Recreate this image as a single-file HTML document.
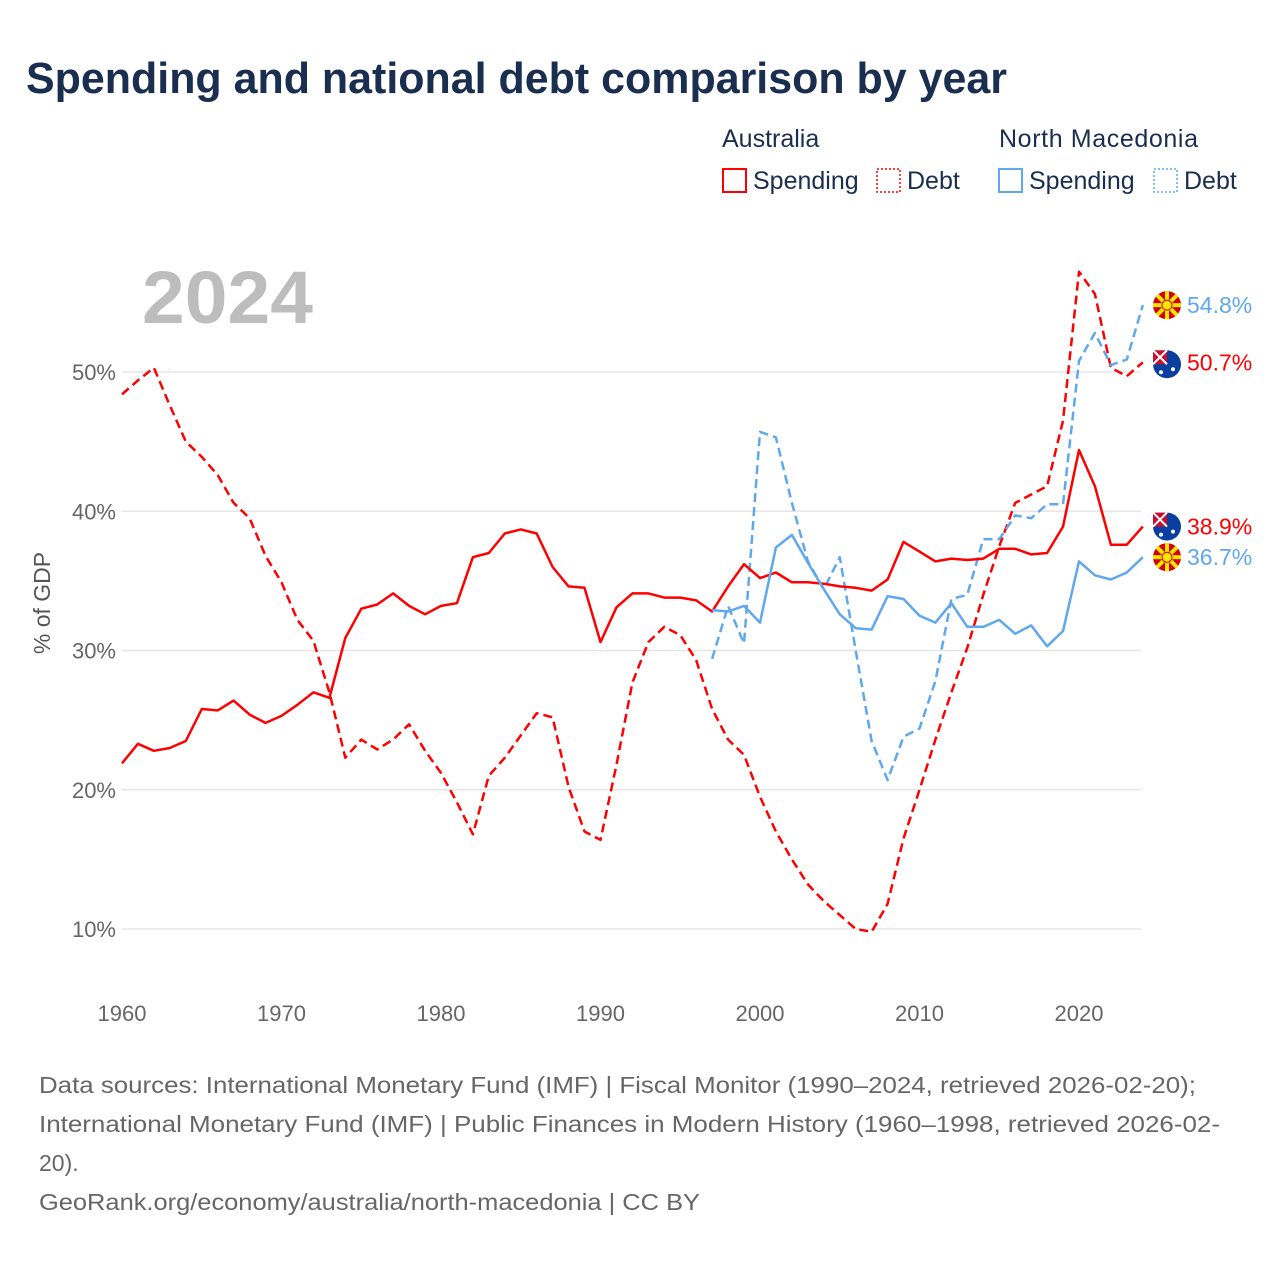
<!DOCTYPE html>
<html><head><meta charset="utf-8"><style>
body{margin:0;background:#fff;font-family:"Liberation Sans",sans-serif;}
#w{position:relative;width:1280px;height:1280px;overflow:hidden;}
</style></head><body><div id="w">
<svg id="s" width="1280" height="1280" xmlns="http://www.w3.org/2000/svg">
<text x="26" y="93" font-size="44" font-weight="bold" fill="#1a2e4f" textLength="981" lengthAdjust="spacingAndGlyphs">Spending and national debt comparison by year</text>
<g font-size="25" fill="#1a2e4f">
<text x="722" y="147">Australia</text>
<text x="999" y="147" textLength="199">North Macedonia</text>
<rect x="723" y="169" width="23" height="23" fill="none" stroke="#f00" stroke-width="2"/>
<text x="753" y="189">Spending</text>
<rect x="877" y="169" width="23" height="23" fill="none" stroke="#f00" stroke-width="1.5" stroke-dasharray="2,2"/>
<text x="907" y="189">Debt</text>
<rect x="999" y="169" width="23" height="23" fill="none" stroke="#5fa8ee" stroke-width="2"/>
<text x="1029" y="189">Spending</text>
<rect x="1154" y="169" width="23" height="23" fill="none" stroke="#5fa8ee" stroke-width="1.5" stroke-dasharray="2,2"/>
<text x="1184" y="189">Debt</text>
</g>
<text x="142" y="323" font-size="74" font-weight="bold" fill="#bdbdbd" textLength="171" lengthAdjust="spacingAndGlyphs">2024</text>
<text transform="translate(50,603) rotate(-90)" text-anchor="middle" font-size="23" fill="#555">% of GDP</text>
<g id="grid"></g><g id="lines"></g><g id="ends"></g>
<g font-size="23" fill="#666">
<text x="39" y="1093" textLength="1157" lengthAdjust="spacingAndGlyphs">Data sources: International Monetary Fund (IMF) | Fiscal Monitor (1990–2024, retrieved 2026-02-20);</text>
<text x="39" y="1132" textLength="1181" lengthAdjust="spacingAndGlyphs">International Monetary Fund (IMF) | Public Finances in Modern History (1960–1998, retrieved 2026-02-</text>
<text x="39" y="1171">20).</text>
<text x="39" y="1210" textLength="661" lengthAdjust="spacingAndGlyphs">GeoRank.org/economy/australia/north-macedonia | CC BY</text>
</g>
</svg></div>
<script>
const yTicks=[10,20,30,40,50];
const xTicks=[1960,1970,1980,1990,2000,2010,2020];
const ausYears0=1960;
const ausSpending=[21.9,23.3,22.8,23.0,23.5,25.8,25.7,26.4,25.4,24.8,25.3,26.1,27.0,26.6,30.9,33.0,33.3,34.1,33.2,32.6,33.2,33.4,36.7,37.0,38.4,38.7,38.4,36.0,34.6,34.5,30.6,33.1,34.1,34.1,33.8,33.8,33.6,32.8,34.6,36.2,35.2,35.6,34.9,34.9,34.8,34.6,34.5,34.3,35.1,37.8,37.1,36.4,36.6,36.5,36.6,37.3,37.3,36.9,37.0,38.9,44.4,41.8,37.6,37.6,38.9];
const ausDebt=[48.4,49.4,50.3,47.6,45.0,43.9,42.6,40.6,39.5,36.8,34.9,32.2,30.7,27.0,22.3,23.6,22.9,23.6,24.7,22.8,21.2,19.1,16.8,21.0,22.3,23.9,25.5,25.2,20.2,17.0,16.4,21.8,27.7,30.6,31.7,31.1,29.3,25.8,23.6,22.5,19.5,17.0,15.0,13.2,12.0,11.0,10.0,9.8,11.8,16.5,20.0,23.6,27.0,30.2,34.0,37.5,40.6,41.2,41.8,46.5,57.2,55.6,50.3,49.7,50.7];
const mkYears0=1997;
const mkSpending=[32.9,32.8,33.2,32.0,37.4,38.3,36.3,34.4,32.6,31.6,31.5,33.9,33.7,32.5,32.0,33.4,31.7,31.7,32.2,31.2,31.8,30.3,31.4,36.4,35.4,35.1,35.6,36.7];
const mkDebt=[29.4,33.2,30.5,45.7,45.3,40.6,36.4,34.4,36.7,30.0,23.5,20.7,23.8,24.4,27.8,33.7,34.0,38.0,38.0,39.7,39.5,40.5,40.5,50.8,52.8,50.5,50.9,54.8];
const endLabels=["54.8%","50.7%","38.9%","36.7%"];
const X=y=>122+(y-1960)*15.95;
const Y=v=>372+(50-v)*13.925;
const NS="http://www.w3.org/2000/svg";
function mk(t,a,p){const e=document.createElementNS(NS,t);for(const k in a)e.setAttribute(k,a[k]);p.appendChild(e);return e;}
const grid=document.getElementById('grid'),lines=document.getElementById('lines'),ends=document.getElementById('ends');
yTicks.forEach(v=>{
 const l=mk('line',{x1:122,x2:1141,y1:Y(v),y2:Y(v),stroke:'#e6e6e6','stroke-width':1.5},grid);
 
 
 const t=mk('text',{x:116,y:Y(v)+8,'text-anchor':'end','font-size':22,fill:'#666'},grid);t.textContent=v+'%';
 
 
});
xTicks.forEach(y=>{
 const t=mk('text',{x:X(y),y:1021,'text-anchor':'middle','font-size':22,fill:'#666'},grid);t.textContent=y;
 
 
});
function series(arr,y0,color,dash,name){
 const d=arr.map((v,i)=>(i?'L':'M')+X(y0+i).toFixed(1)+','+Y(v).toFixed(1)).join('');
 const p=mk('path',{d:d,fill:'none',stroke:color,'stroke-width':2.5,'stroke-linejoin':'round'},lines);
 if(dash)p.setAttribute('stroke-dasharray',dash);
 
 
}
series(ausDebt,ausYears0,'#f00','9,5','line-australia-debt');
series(mkDebt,mkYears0,'#5fa8ee','9,5','line-north-macedonia-debt');
series(ausSpending,ausYears0,'#f00',null,'line-australia-spending');
series(mkSpending,mkYears0,'#5fa8ee',null,'line-north-macedonia-spending');
const endVals=[mkDebt[mkDebt.length-1],ausDebt[ausDebt.length-1],ausSpending[ausSpending.length-1],mkSpending[mkSpending.length-1]];
const endCols=['#5fa8ee','#f00','#f00','#5fa8ee'];
const endFlag=['mk','au','au','mk'];
endVals.forEach((v,i)=>{
 const cy=Y(v)+(i==1?2:0),cx=1167;
 const g=mk('g',{},ends);
 
 
 if(endFlag[i]=='mk'){
  mk('circle',{cx:cx,cy:cy,r:14,fill:'#d20000'},g);
  for(let k=0;k<8;k++){const a=k*Math.PI/4;mk('line',{x1:cx,y1:cy,x2:cx+14*Math.cos(a),y2:cy+14*Math.sin(a),stroke:'#ffe600','stroke-width':4},g);}
  mk('circle',{cx:cx,cy:cy,r:5,fill:'#ffe600',stroke:'#d20000','stroke-width':1},g);
 }else{
  mk('circle',{cx:cx,cy:cy,r:14,fill:'#0a3fa0'},g);
  mk('rect',{x:cx-14,y:cy-14,width:14,height:14,fill:'#c8102e'},g);
  mk('path',{d:`M${cx-14},${cy-14}L${cx},${cy}M${cx},${cy-14}L${cx-14},${cy}`,stroke:'#fff','stroke-width':2},g);
  mk('circle',{cx:cx+6,cy:cy+5,r:2,fill:'#fff'},g);mk('circle',{cx:cx-6,cy:cy+8,r:2,fill:'#fff'},g);
 }
 const t=mk('text',{x:1187,y:Y(v)+8,'font-size':23,fill:endCols[i]},ends);t.textContent=endLabels[i];
 
 
});
</script></body></html>
